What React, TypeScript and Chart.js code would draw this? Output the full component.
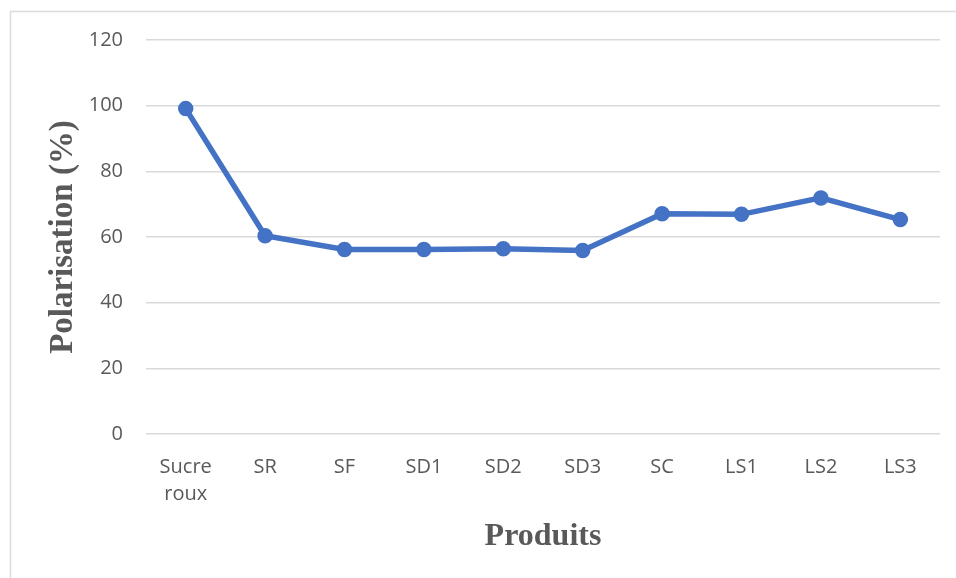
import React, { useEffect, useRef } from "react";
import { Chart, registerables } from "chart.js";

Chart.register(...registerables);

// Produits analysés et taux de polarisation mesurés (%)
const produits: (string | string[])[] = [
  ["Sucre", "roux"],
  "SR",
  "SF",
  "SD1",
  "SD2",
  "SD3",
  "SC",
  "LS1",
  "LS2",
  "LS3",
];
const polarisation: number[] = [99.1, 60.4, 56.2, 56.2, 56.4, 55.9, 67.1, 66.9, 71.9, 65.3];

const yMin = 0;
const yMax = 120;
const yStep = 20;

const AXIS_GREY = "#595959";
const GRID_GREY = "#d9d9d9";
const LINE_BLUE = "#4472C4";

// Thin frame around the whole chart area
const framePlugin = {
  id: "frame",
  beforeDraw(chart: Chart) {
    const { ctx } = chart;
    ctx.save();
    ctx.strokeStyle = "#dcdcdc";
    ctx.lineWidth = 1.5;
    ctx.strokeRect(10.5, 11.5, chart.width + 20, chart.height + 20);
    ctx.restore();
  },
};

export default function App() {
  const canvasRef = useRef<HTMLCanvasElement | null>(null);

  useEffect(() => {
    const canvas = canvasRef.current;
    if (!canvas) return;
    const chart = new Chart(canvas, {
      type: "line",
      data: {
        labels: produits,
        datasets: [
          {
            label: "Polarisation",
            data: polarisation,
            borderColor: LINE_BLUE,
            backgroundColor: LINE_BLUE,
            borderWidth: 5.5,
            pointRadius: 7,
            pointHoverRadius: 7,
            pointBackgroundColor: LINE_BLUE,
            pointBorderColor: LINE_BLUE,
            pointBorderWidth: 1.5,
            tension: 0,
          },
        ],
      },
      options: {
        animation: false,
        responsive: false,
        maintainAspectRatio: false,
        layout: { padding: { left: 0, right: 16, top: 40, bottom: 0 } },
        plugins: {
          legend: { display: false },
          tooltip: { enabled: false },
        },
        scales: {
          x: {
            offset: true,
            grid: { display: false },
            border: { display: false },
            ticks: {
              color: AXIS_GREY,
              font: { family: "'Open Sans', sans-serif", size: 20, lineHeight: 1.35 },
              padding: 12,
              maxRotation: 0,
              autoSkip: false,
            },
            title: {
              display: true,
              text: "Produits",
              color: AXIS_GREY,
              font: { family: "'Liberation Serif', serif", size: 32, weight: "bold" },
              padding: { top: 0, bottom: 22 },
            },
            afterFit(scale: any) {
              scale.height = 144;
            },
          },
          y: {
            min: yMin,
            max: yMax,
            grid: { color: GRID_GREY, lineWidth: 1.4, drawTicks: false },
            border: { display: false },
            ticks: {
              stepSize: yStep,
              color: AXIS_GREY,
              font: { family: "'Open Sans', sans-serif", size: 20 },
              padding: 23,
            },
            title: {
              display: true,
              text: "Polarisation (%)",
              color: AXIS_GREY,
              font: { family: "'Liberation Serif', serif", size: 33, weight: "bold" },
              padding: { top: 44, bottom: 0 },
            },
            afterFit(scale: any) {
              scale.width = 146;
            },
          },
        },
      },
      plugins: [framePlugin],
    });
    return () => chart.destroy();
  }, []);

  return (
    <div style={{ position: "absolute", left: 0, top: 0, width: 956, height: 578, background: "#fff" }}>
      <canvas ref={canvasRef} width={956} height={578} style={{ display: "block" }} />
    </div>
  );
}
